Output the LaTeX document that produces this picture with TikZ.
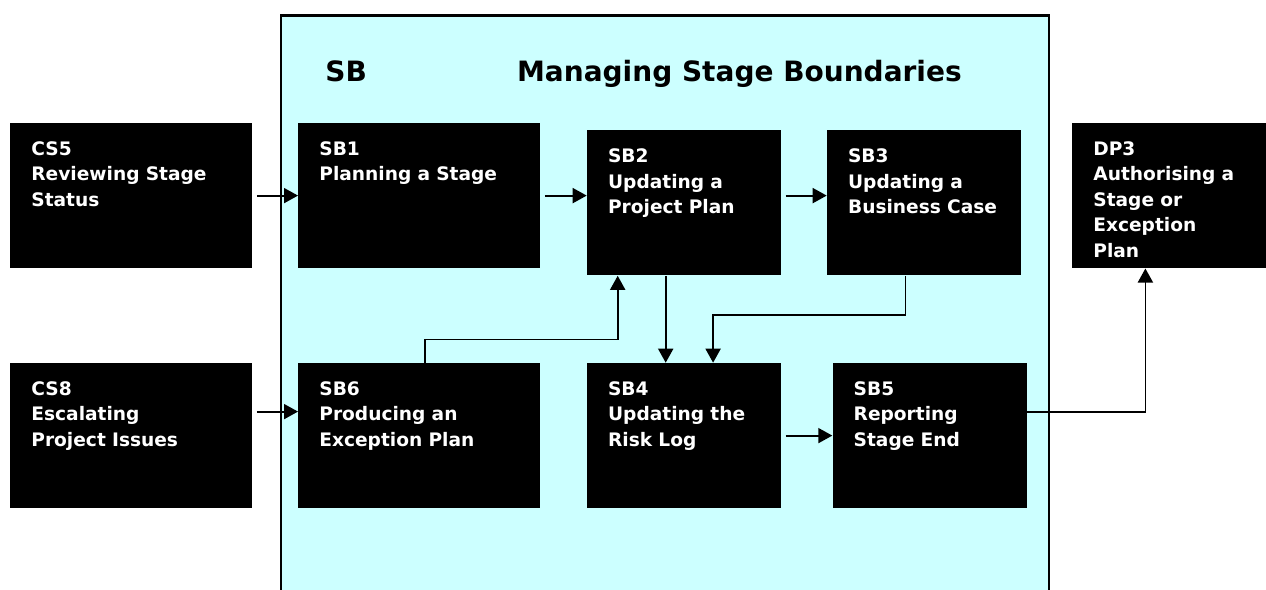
\documentclass[tikz,border=0pt]{standalone}
\usepackage{fontspec}
\setmainfont{DejaVu Sans}
\usetikzlibrary{arrows.meta}
\definecolor{stagecyan}{RGB}{204,255,255}

\begin{document}
\begin{tikzpicture}[x=0.5pt,y=-0.5pt]
\tikzstyle{every node}=[font=\bfseries]
\tikzstyle{process}=[fill=black, text=white, anchor=north west, align=left, inner xsep=10.5pt, inner ysep=0pt, text height=16.15pt, text depth=56.35pt, text width=100pt, font=\fontsize{9.3}{12.75}\selectfont\bfseries]
\tikzstyle{small process}=[process, text width=76pt]
\tikzstyle{heading}=[anchor=base west, inner sep=0pt, font=\fontsize{14}{17}\selectfont\bfseries]
\tikzstyle{flow}=[-{Triangle[length=7pt,width=7.5pt]}, line width=0.9pt]

\useasboundingbox (0,0) rectangle (1266,590);
\fill[stagecyan] (280.7,15.3) rectangle (1048.7,590);
\draw[line width=1.2pt] (280.7,590) |- (1048.7,15.3) -- (1048.7,590);

\node[heading] (sbcode) at (325,81) {SB};
\node[heading] (sbtitle) at (516.7,81) {Managing Stage Boundaries};

\node[process] (cs5) at (10,122.7) {CS5\\Reviewing Stage\\Status};
\node[process] (sb1) at (298,122.7) {SB1\\Planning a Stage};
\node[small process] (sb2) at (586.7,130) {SB2\\Updating~a\\Project~Plan};
\node[small process] (sb3) at (826.7,130) {SB3\\Updating~a\\Business~Case};
\node[small process] (dp3) at (1072,122.7) {DP3\\Authorising~a\\Stage or\\Exception\\Plan};

\node[process] (cs8) at (10,362.7) {CS8\\Escalating\\Project Issues};
\node[process] (sb6) at (298,362.7) {SB6\\Producing an\\Exception Plan};
\node[small process] (sb4) at (586.7,362.7) {SB4\\Updating~the\\Risk~Log};
\node[small process] (sb5) at (832.3,362.7) {SB5\\Reporting\\Stage~End};

\draw[flow, shorten <=2pt] (cs5.east) -- (sb1.west);
\draw[flow, shorten <=2pt] (sb1.east) -- (sb1.east -| sb2.west);
\draw[flow, shorten <=2pt] (sb1.east -| sb2.east) -- (sb1.east -| sb3.west);
\draw[flow, shorten <=2pt] ([yshift=12pt]cs8.east) -- ([yshift=12pt]sb6.west);
\draw[flow] ([xshift=2.9pt]sb6.north) |- ([xshift=-33.2pt,yshift=-31.8pt]sb2.south) -- ([xshift=-33.2pt]sb2.south);
\draw[flow] ([xshift=-9.2pt]sb2.south) -- ([xshift=-9.2pt]sb4.north);
\draw[flow] ([xshift=-9.35pt]sb3.south) |- ([xshift=14.5pt,yshift=23.85pt]sb4.north) -- ([xshift=14.5pt]sb4.north);
\draw[flow, shorten <=2pt] (sb4.east) -- (sb5.west);
\draw[flow] ([yshift=12pt]sb5.east) -| ([xshift=-12pt]dp3.south);

\end{tikzpicture}
\end{document}
